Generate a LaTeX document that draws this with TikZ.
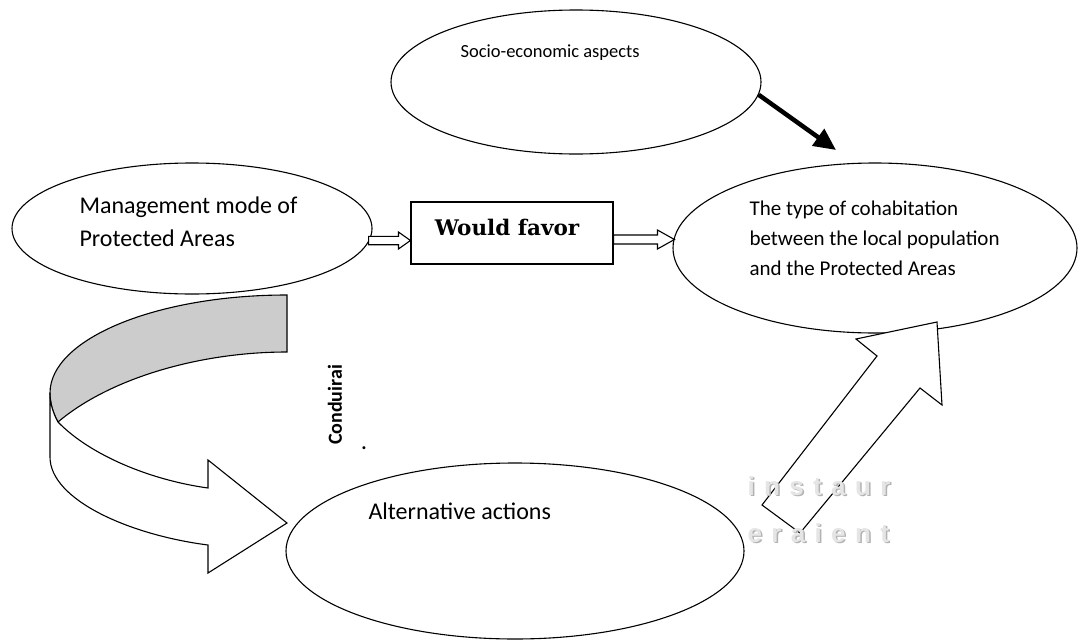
\documentclass[tikz,border=0pt]{standalone}
\usepackage{fontspec}
\setmainfont{Carlito}
\newfontfamily\favfont{DejaVu Serif}
\newfontfamily\wmfont[LetterSpace=36]{Liberation Sans}
\usetikzlibrary{shapes.geometric,arrows.meta,calc}
\begin{document}
\begin{tikzpicture}[x=1pt,y=-1pt,line width=1.1pt,
  oval/.style={draw,ellipse,inner sep=0pt,fill=white},
  lbl/.style={anchor=base west,inner sep=0pt,font=\fontsize{24}{28}\selectfont},
  smalllbl/.style={lbl,font=\fontsize{21}{25}\selectfont},
  hollow/.style={draw,fill=white,line join=miter},
  wmshadow/.style={anchor=base west,inner sep=0pt,text=black!30,font=\wmfont\bfseries\fontsize{26}{30}\selectfont},
  wmtext/.style={wmshadow,text=black!10}]
\useasboundingbox (0,0) rectangle (1079,640);
\fill[white] (0,0) rectangle (1079,640);

% curved ribbon arrow
\draw[fill=black!20,line join=miter] (287,295) .. controls (156,295) and (50,339) .. (50,393)
  .. controls (50,403) and (53,413) .. (58,422)
  .. controls (110,378) and (200,352) .. (287,352) -- cycle;
\draw[fill=white,line join=miter] (58,422) .. controls (90,455) and (150,480) .. (208,488)
  -- (208,460) -- (287,523) -- (208,573) -- (208,545)
  .. controls (130,535) and (50,500) .. (50,457) -- (50,393)
  .. controls (50,403) and (53,413) .. (58,422) -- cycle;

% ellipses and box
\node[oval,minimum width=370,minimum height=144] (socio) at (576,82) {};
\node[lbl,font=\fontsize{18.5}{22}\selectfont] (sociotext) at (460,57) {Socio-economic aspects};

\node[oval,minimum width=360,minimum height=131] (mgmt) at (192,228.5) {};
\node[lbl] (mgmtA) at (79,213) {Management mode of};
\node[lbl] (mgmtB) at (79,246) {Protected Areas};

\node[draw,minimum width=202,minimum height=62,inner sep=0pt] (fav) at (512,233) {};
\node[anchor=base,inner sep=0pt,font=\favfont\bfseries\fontsize{21.5}{26}\selectfont] (favtext) at (507,235) {Would favor};

\node[oval,minimum width=404,minimum height=170] (cohab) at (875,248) {};
\node[smalllbl] (cohabA) at (749,215) {The type of cohabitation};
\node[smalllbl] (cohabB) at (749,245) {between the local population};
\node[smalllbl] (cohabC) at (749,275) {and the Protected Areas};

\node[oval,minimum width=458,minimum height=176] (alt) at (515,551) {};
\node[lbl] (alttext) at (368,519) {Alternative actions};

\node[rotate=90,inner sep=0pt,font=\bfseries\fontsize{20}{24}\selectfont] (cond) at (335,405) {Conduirai};
\node[anchor=base,inner sep=0pt,font=\bfseries\fontsize{20}{24}\selectfont] (dot) at (364,449) {.};

% hollow double arrows
\draw[hollow] let \p1=($(mgmt.east)+(-4,12)$), \p2=($(fav.west)+(0,7)$) in
  (\x1,\y1+4.2pt) -- (\x2-12pt,\y1+4.2pt) -- (\x2-12pt,\y1+8.5pt) -- (\x2,\y1)
  -- (\x2-12pt,\y1-8.5pt) -- (\x2-12pt,\y1-4.2pt) -- (\x1,\y1-4.2pt) -- cycle;
\draw[hollow] let \p1=($(fav.east)+(0,6.5)$), \p2=($(cohab.west)+(2,-8.5)$) in
  (\x1,\y1+4.5pt) -- (\x2-17pt,\y1+4.5pt) -- (\x2-17pt,\y1+9.5pt) -- (\x2,\y1)
  -- (\x2-17pt,\y1-9.5pt) -- (\x2-17pt,\y1-4.5pt) -- (\x1,\y1-4.5pt) -- cycle;

% thick black arrow
\coordinate (sociotip) at (836,150);
\draw[line width=4.5pt,-{Triangle[length=22pt,width=20pt]}] (socio.-4) -- (sociotip);

% big hollow block arrow
\draw[hollow] (762,505) -- (877,356) -- (856,339) -- (937,322) -- (942,405)
  -- (920,388) -- (800,533) -- cycle;

% watermark text
\node[wmshadow] (wmA1) at (748.5,496.5) {instaur};
\node[wmtext] (wmA) at (747,495) {instaur};
\node[wmshadow] (wmB1) at (748.5,543.5) {eraient};
\node[wmtext] (wmB) at (747,542) {eraient};
\end{tikzpicture}
\end{document}
